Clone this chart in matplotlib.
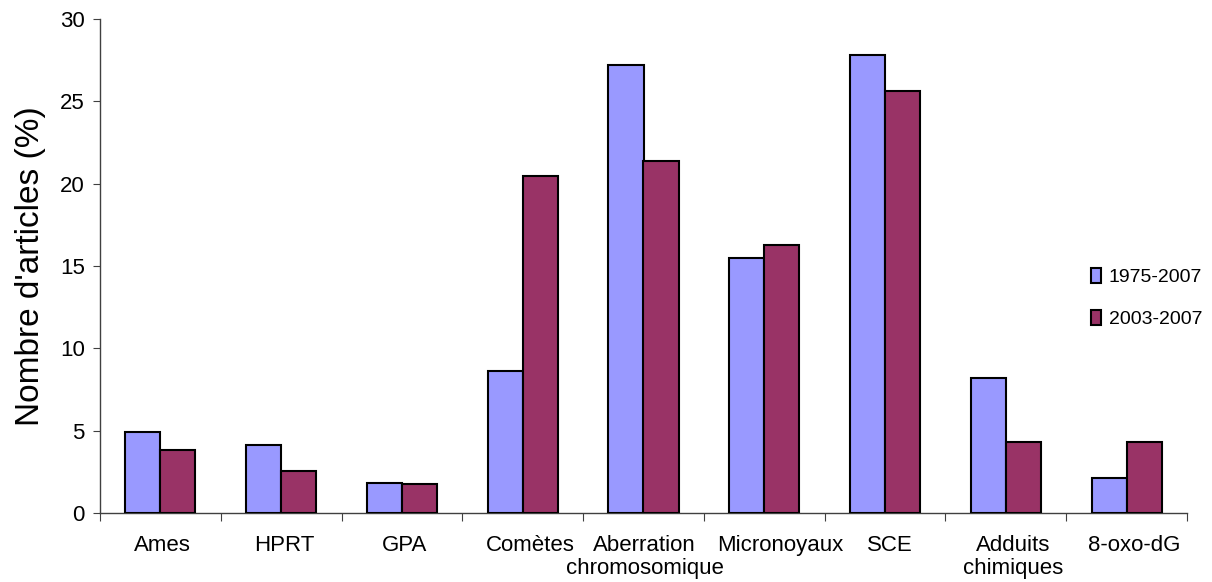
import matplotlib.pyplot as plt
import numpy as np

plt.rcParams['font.family'] = ['Liberation Sans', 'DejaVu Sans']

# données
categories = ['Ames', 'HPRT', 'GPA', 'Comètes', 'Aberration\nchromosomique',
              'Micronoyaux', 'SCE', 'Adduits\nchimiques', '8-oxo-dG']
serie_1975 = [4.9, 4.1, 1.85, 8.6, 27.2, 15.5, 27.8, 8.2, 2.15]
serie_2003 = [3.8, 2.55, 1.75, 20.45, 21.4, 16.25, 25.6, 4.3, 4.3]
labels_series = ['1975-2007', '2003-2007']

# petit décalage horizontal des étiquettes (comme dans l'original Excel)
decalage = [0.02, 0.03, 0.02, 0.06, 0.01, 0.13, 0.04, 0.06, 0.06]

fig = plt.figure(figsize=(12.12, 5.82), dpi=100)
ax = fig.add_axes([100 / 1212, 1 - 513 / 582, 1087 / 1212, 494 / 582])

x = np.arange(len(categories))
w = 0.29
ax.bar(x - w / 2, serie_1975, w, color='#9999FF', edgecolor='black',
       linewidth=1.5, label=labels_series[0], zorder=3)
ax.bar(x + w / 2, serie_2003, w, color='#993366', edgecolor='black',
       linewidth=1.5, label=labels_series[1], zorder=3)

ax.set_xlim(-0.5, len(categories) - 0.5)
ax.set_ylim(0, 30)
ax.set_yticks(range(0, 31, 5))

# ticks aux frontières, étiquettes au centre
ax.set_xticks(np.arange(-0.5, len(categories), 1))
ax.set_xticklabels([])
ax.set_xticks(x + np.array(decalage), minor=True)
ax.set_xticklabels(categories, minor=True, fontsize=16, va='top', linespacing=1.12)
ax.tick_params(axis='x', which='minor', length=0, pad=16)
ax.tick_params(axis='x', which='major', length=6, direction='out', color='#404040')
ax.tick_params(axis='y', length=5, direction='out', labelsize=16, pad=6, color='#404040')

for s in ['top', 'right']:
    ax.spines[s].set_visible(False)
for s in ['left', 'bottom']:
    ax.spines[s].set_color('#404040')
    ax.spines[s].set_linewidth(1.0)

ax.set_ylabel("Nombre d'articles (%)", fontsize=24, labelpad=10)

ax.legend(loc='center left', bbox_to_anchor=(1073 / 1212, 1 - 298 / 582),
          bbox_transform=fig.transFigure, frameon=False, fontsize=14,
          handlelength=0.55, handleheight=0.85, handletextpad=0.4,
          labelspacing=1.2)

fig.savefig('out.png', dpi=100)
